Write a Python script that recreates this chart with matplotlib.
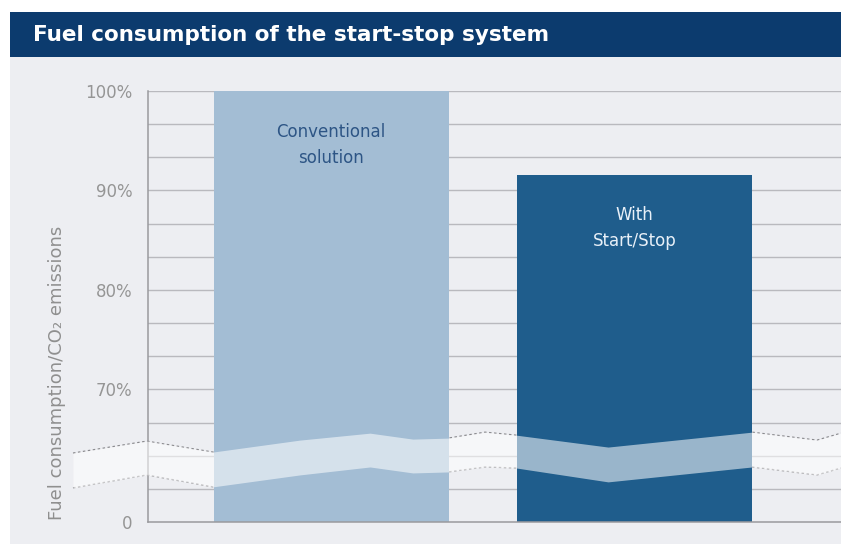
import matplotlib.pyplot as plt
from matplotlib.patches import Rectangle

# bar heights in percent of the conventional solution
categories = ["Conventional\nsolution", "With\nStart/Stop"]
consumption = [100, 91.6]

# the axis is broken below 70 %: the "0" sits at this level
zero_level = 170 / 3
tick_values = [zero_level, 70, 80, 90, 100]
tick_labels = ["0", "70%", "80%", "90%", "100%"]

# wavy break band across the lower part of the chart
band_x = [-0.850, -0.607, -0.389, -0.103, 0.128, 0.269, 0.385, 0.507,
          0.609, 0.912, 1.386, 1.600, 1.679]
band_top = [63.6, 64.8, 63.7, 64.9, 65.6, 65.0, 65.1, 65.7,
            65.4, 64.2, 65.7, 64.9, 65.6]
band_bottom = [60.1, 61.4, 60.2, 61.4, 62.2, 61.6, 61.7, 62.2,
               62.1, 60.7, 62.2, 61.4, 62.1]


def graph():
    fig = plt.figure(figsize=(8.41, 5.44), dpi=100)
    fig.patch.set_facecolor("white")

    # grey panel and dark title bar
    fig.patches.append(Rectangle((10 / 841, 0), 1, 487 / 544, transform=fig.transFigure,
                                 facecolor="#edeef2", edgecolor="none", zorder=-5))
    fig.patches.append(Rectangle((10 / 841, 487 / 544), 1, 45 / 544, transform=fig.transFigure,
                                 facecolor="#0c3b6e", edgecolor="none", zorder=-5))
    fig.text(33 / 841, 509 / 544, "Fuel consumption of the start-stop system",
             color="white", fontsize=15.5, fontweight="bold", va="center", ha="left")

    ax = fig.add_axes([148 / 841, 22 / 544, 1 - 148 / 841, 431 / 544])
    ax.set_zorder(2)
    ax.set_facecolor("none")

    x = [0, 1]
    colors = ["#a3bdd4", "#1f5d8c"]
    text_colors = ["#2d5585", "#e8f0f8"]

    # horizontal grid every 10/3 %
    k = 1
    while zero_level + k * 10 / 3 < 100.01:
        ax.axhline(zero_level + k * 10 / 3, color="#b9b9be", lw=1.0, zorder=1)
        k += 1

    ax.plot(band_x, band_top, color="#8a8a8e", lw=0.9, ls=(0, (2, 2)), zorder=1.5, clip_on=False)
    ax.plot(band_x, band_bottom, color="#8a8a8e", lw=0.9, ls=(0, (2, 2)), zorder=1.5, clip_on=False)

    ax.bar(x, [v - zero_level for v in consumption], bottom=zero_level, width=0.774,
           color=colors, zorder=2)

    ax.fill_between(band_x, band_bottom, band_top, color="white", alpha=0.55,
                    lw=0, zorder=3, clip_on=False)

    for xi, v, lab, tc in zip(x, consumption, categories, text_colors):
        ax.text(xi, v - 5.4, lab, ha="center", va="center", color=tc,
                fontsize=12, linespacing=1.6, zorder=4)

    ax.set_xlim(-0.603, 1.679)
    ax.set_ylim(zero_level, 100)
    ax.set_xticks([])
    ax.set_yticks(tick_values)
    ax.set_yticklabels(tick_labels)
    ax.tick_params(axis="y", length=0, pad=11, labelsize=12, labelcolor="#959595")

    for side in ["top", "right"]:
        ax.spines[side].set_visible(False)
    for side in ["left", "bottom"]:
        ax.spines[side].set_color("#9a9a9e")
        ax.spines[side].set_linewidth(1.1)

    fig.text(57 / 841, 171 / 544, "Fuel consumption/CO₂ emissions", rotation=90,
             ha="center", va="center", color="#8f8f8f", fontsize=13)

    plt.savefig("out.png", dpi=100)


graph()
